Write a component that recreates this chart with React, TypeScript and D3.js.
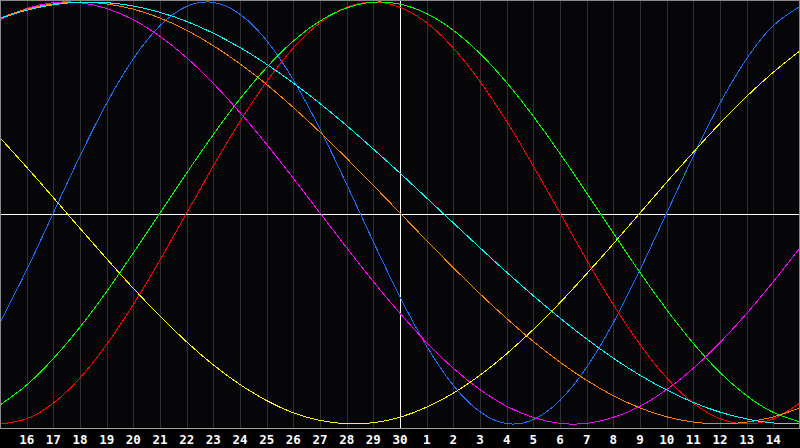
import React from "react";
import * as d3 from "d3";

const dayLabels = [
  "15", "16", "17", "18", "19", "20", "21", "22", "23", "24", "25", "26", "27", "28", "29", "30",
  "1", "2", "3", "4", "5", "6", "7", "8", "9", "10", "11", "12", "13", "14", "15",
];

const physical = [-0.520, -0.270, 0, 0.270, 0.520, 0.731, 0.888, 0.979, 0.998, 0.942, 0.817, 0.631, 0.398, 0.136, -0.136, -0.398, -0.631, -0.817, -0.942, -0.998, -0.979, -0.888, -0.731, -0.520, -0.270, 0, 0.270, 0.520, 0.731, 0.888, 0.979];
const emotional = [-1, -0.975, -0.901, -0.782, -0.623, -0.434, -0.223, 0, 0.223, 0.434, 0.623, 0.782, 0.901, 0.975, 1, 0.975, 0.901, 0.782, 0.623, 0.434, 0.223, 0, -0.223, -0.434, -0.623, -0.782, -0.901, -0.975, -1, -0.975, -0.901];
const intellectual = [-0.910, -0.815, -0.690, -0.541, -0.372, -0.189, 0, 0.189, 0.372, 0.541, 0.690, 0.815, 0.910, 0.972, 0.999, 0.990, 0.945, 0.866, 0.756, 0.618, 0.458, 0.282, 0.095, -0.095, -0.282, -0.458, -0.618, -0.756, -0.866, -0.945, -0.990];
const intuitive = [0.916, 0.969, 0.997, 0.997, 0.969, 0.916, 0.837, 0.736, 0.614, 0.476, 0.325, 0.165, 0, -0.165, -0.325, -0.476, -0.614, -0.736, -0.837, -0.916, -0.969, -0.997, -0.997, -0.969, -0.916, -0.837, -0.736, -0.614, -0.476, -0.325, -0.165];
const aesthetic = [0.357, 0.217, 0.073, -0.073, -0.217, -0.357, -0.489, -0.611, -0.720, -0.813, -0.889, -0.947, -0.983, -0.999, -0.994, -0.968, -0.920, -0.854, -0.769, -0.667, -0.552, -0.425, -0.288, -0.146, 0, 0.146, 0.288, 0.425, 0.552, 0.667, 0.769];
const awareness = [0.924, 0.966, 0.991, 1, 0.991, 0.966, 0.924, 0.866, 0.793, 0.707, 0.609, 0.5, 0.383, 0.259, 0.131, 0, -0.131, -0.259, -0.383, -0.5, -0.609, -0.707, -0.793, -0.866, -0.924, -0.966, -0.991, -1, -0.991, -0.966, -0.924];
const spiritual = [0.922, 0.961, 0.987, 0.999, 0.997, 0.981, 0.951, 0.908, 0.852, 0.784, 0.705, 0.616, 0.519, 0.414, 0.303, 0.189, 0.071, -0.047, -0.165, -0.281, -0.392, -0.498, -0.597, -0.688, -0.769, -0.839, -0.898, -0.944, -0.976, -0.995, -1.0];

const seriesList = [
  { name: "physical", values: physical, color: "#1e6eff" },
  { name: "emotional", values: emotional, color: "#ff0000" },
  { name: "intellectual", values: intellectual, color: "#00ff00" },
  { name: "intuitive", values: intuitive, color: "#ff00ff" },
  { name: "aesthetic", values: aesthetic, color: "#ffff00" },
  { name: "awareness", values: awareness, color: "#ff8000" },
  { name: "spiritual", values: spiritual, color: "#00ffff" },
];

const W = 800;
const H = 448;
const PLOT_BOTTOM = 428;

export default function App() {
  const x = d3.scaleLinear().domain([0, dayLabels.length - 1]).range([0, W]);
  const y = d3.scaleLinear().domain([-1, 1]).range([424, 2]);
  const line = d3
    .line<number>()
    .x((_, i) => x(i))
    .y((v) => y(v))
    .curve(d3.curveNatural);

  const todayIdx = 15;
  const gridIdx = d3.range(1, dayLabels.length - 1);

  return (
    <svg
      width={W}
      height={H}
      style={{ position: "absolute", left: 0, top: 0, background: "#000" }}
    >
      <rect x={0} y={0} width={W} height={H} fill="#000" />
      <rect x={0} y={0} width={W} height={PLOT_BOTTOM} fill="#060608" />
      {gridIdx.map((i) => (
        <line
          key={"g" + i}
          x1={Math.round(x(i)) + 0.5}
          x2={Math.round(x(i)) + 0.5}
          y1={0}
          y2={PLOT_BOTTOM}
          stroke="#303030"
          strokeWidth={1}
          shapeRendering="crispEdges"
        />
      ))}
      <line x1={0} x2={W} y1={214.5} y2={214.5} stroke="#ffffff" strokeWidth={1} shapeRendering="crispEdges" />
      <line
        x1={Math.round(x(todayIdx)) + 0.5}
        x2={Math.round(x(todayIdx)) + 0.5}
        y1={0}
        y2={PLOT_BOTTOM}
        stroke="#ffffff"
        strokeWidth={1}
        shapeRendering="crispEdges"
      />
      {seriesList.map((s) => (
        <path
          key={s.name}
          d={line(s.values) || ""}
          fill="none"
          stroke={s.color}
          strokeWidth={1}
          shapeRendering="crispEdges"
        />
      ))}
      <rect x={0.5} y={0.5} width={W - 1} height={PLOT_BOTTOM} fill="none" stroke="#8a8a8a" strokeWidth={1} shapeRendering="crispEdges" />
      <line x1={0} x2={W} y1={PLOT_BOTTOM + 0.5} y2={PLOT_BOTTOM + 0.5} stroke="#a0a0a0" strokeWidth={1} shapeRendering="crispEdges" />
      {gridIdx.map((i) => (
        <text
          key={"t" + i}
          x={x(i)}
          y={444}
          fill="#ffffff"
          fontFamily="'DejaVu Sans Mono', monospace"
          fontWeight="bold"
          fontSize={12.5}
          textAnchor="middle"
        >
          {dayLabels[i]}
        </text>
      ))}
    </svg>
  );
}
